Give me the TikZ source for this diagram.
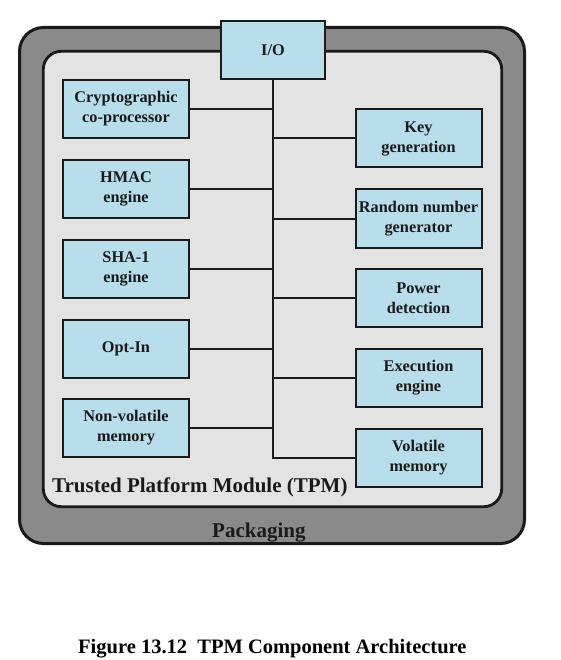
\documentclass[tikz,border=0pt]{standalone}
\usepackage{fontspec}
\setmainfont{Liberation Serif}
\definecolor{boxblue}{HTML}{B8DDEB}
\definecolor{pkggray}{HTML}{8A8A8A}
\definecolor{tpmgray}{HTML}{E3E3E3}
\definecolor{ink}{HTML}{1A1A1A}
\begin{document}
\begin{tikzpicture}[x=1pt,y=-1pt,
  comp/.style={draw=ink,line width=2pt,fill=boxblue,minimum width=126pt,
    minimum height=58pt,align=center,inner sep=0pt,text=ink,
    font=\fontsize{16.3}{20}\selectfont\bfseries},
  link/.style={draw=ink,line width=2pt},
  lbl/.style={inner sep=0pt,anchor=base west,text=ink,
    font=\fontsize{21}{25}\selectfont\bfseries}]
\useasboundingbox (0,0) rectangle (560,660);
% packaging and module
\draw[draw=ink,line width=3pt,fill=pkggray,rounded corners=24pt] (19.5,27.5) rectangle (524.5,543.5);
\draw[draw=ink,line width=2.8pt,fill=tpmgray,rounded corners=18pt] (43.3,51.3) rectangle (501.7,506.7);
% I/O
\node[comp,minimum width=104pt] (io) at (273,50) {I/O};
% left components
\node[comp] (crypto) at (126,109) {Cryptographic\\co-processor};
\node[comp] (hmac)   at (126,189) {HMAC\\engine};
\node[comp] (sha)    at (126,269) {SHA-1\\engine};
\node[comp] (optin)  at (126,348.5) {Opt-In};
\node[comp] (nonvol) at (126,428) {Non-volatile\\memory};
% right components
\node[comp] (keygen) at (418.5,138.5) {Key\\generation};
\node[comp] (rng)    at (418.5,218.5) {Random number\\generator};
\node[comp] (power)  at (418.5,298) {Power\\detection};
\node[comp] (exec)   at (418.5,378) {Execution\\engine};
\node[comp] (vol)    at (418.5,457.5) {Volatile\\memory};
% bus
\draw[link] (io.south) -- (vol.west -| io.south) -- (vol.west);
\foreach \n in {crypto,hmac,sha,optin,nonvol}
  \draw[link] (\n.east) -- (\n.east -| io.south);
\foreach \n in {keygen,rng,power,exec}
  \draw[link] (\n.west) -- (\n.west -| io.south);
% labels
\node[lbl] (tpmlabel) at (52,492) {Trusted Platform Module (TPM)};
\node[lbl] (pkglabel) at (212,537) {Packaging};
\node[lbl,font=\fontsize{20.5}{24}\selectfont\bfseries,text=black] (caption) at (78,653) {Figure 13.12\hspace{0.5em}TPM Component Architecture};
\end{tikzpicture}
\end{document}
